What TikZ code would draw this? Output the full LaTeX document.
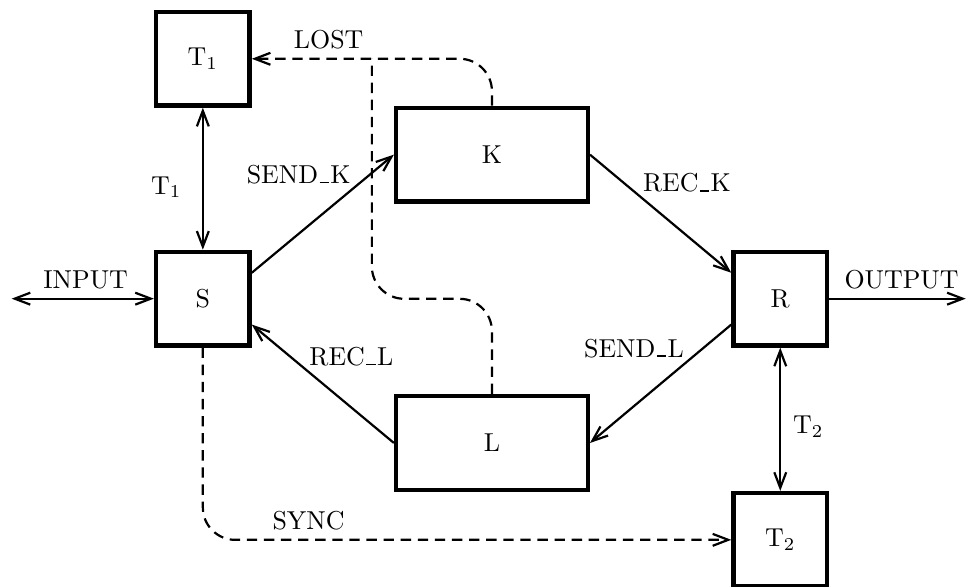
\documentclass[tikz,border=0pt]{standalone}
\usetikzlibrary{arrows.meta,positioning,calc}
\newcommand{\usc}{\leavevmode\kern.06em\vbox{\hrule width .35em height .6pt}\kern.06em}
\tikzset{
  box/.style   = {draw, line width=1.7pt, rectangle, inner sep=0pt,
  minimum width=36.1pt, minimum height=36.1pt},
  wbox/.style  = {box, minimum width=74pt},
  link/.style  = {line width=0.85pt},
  dline/.style = {link, dash pattern=on 4pt off 2.6pt, rounded corners=12.5pt},
  lbl/.style   = {inner sep=1pt}
}

\begin{document}
\begin{tikzpicture}[>={Straight Barb[length=6pt,width=4.6pt]}]
\useasboundingbox (0,0) rectangle (372.9pt,226.6pt);

% the boxes
    \node[box] (S) at (78.3pt,111.3pt) {S};
    \node[box] (T1) at (78.3pt,203.9pt) {T$_1$};
    \node[wbox] (K) at (189.9pt,166.9pt) {K};
    \node[wbox] (L) at (189.9pt,55.6pt) {L};
    \node[box] (R) at (301.2pt,111.3pt) {R};
    \node[box] (T2) at (301.2pt,18.2pt) {T$_2$};

% free ends of input and output
    \coordinate[left=54.9pt of S] (in);
    \coordinate[right=52.7pt of R] (out);

% solid connectors
    \draw[link,<->] (in) -- node[pos=0.52,above] {INPUT} (S.west);
    \draw[link,->] (R.east) -- node[pos=0.53,above] {OUTPUT} (out);
    \draw[link,<->] (T1.south) -- node[pos=0.56,left=4.5pt] {T$_1$} (S.north);
    \draw[link,<->] (R.south) -- node[pos=0.55,right=1.2pt] {T$_2$} (T2.north);
    \draw[link,->] ([yshift=10pt]S.east) -- node[lbl,pos=0.72,above left] {SEND\usc K} (K.west);
    \draw[link,->] (K.east) -- node[lbl,pos=0.35,above right] {REC\usc K} ([yshift=10pt]R.west);
    \draw[link,->] ([yshift=-10pt]R.west) -- node[lbl,pos=0.31,above left] {SEND\usc L} (L.east);
    \draw[link,->] (L.west) -- node[lbl,pos=0.62,above right] {REC\usc L} ([yshift=-10pt]S.east);

% dashed lines
    \draw[dline,->] (K.north) |- node[pos=0.84,above] {LOST} (T1.east);
    \coordinate (jog) at ($(K.south west)!0.5!(L.north west)+(-8.5pt,0)$);
    \coordinate (merge) at (jog |- T1.east);
    \draw[dline] (L.north) |- (jog) -- (merge);
    \draw[dline,->] (S.south) |- node[pos=0.6,above] {SYNC} (T2.west);
\end{tikzpicture}
\end{document}
